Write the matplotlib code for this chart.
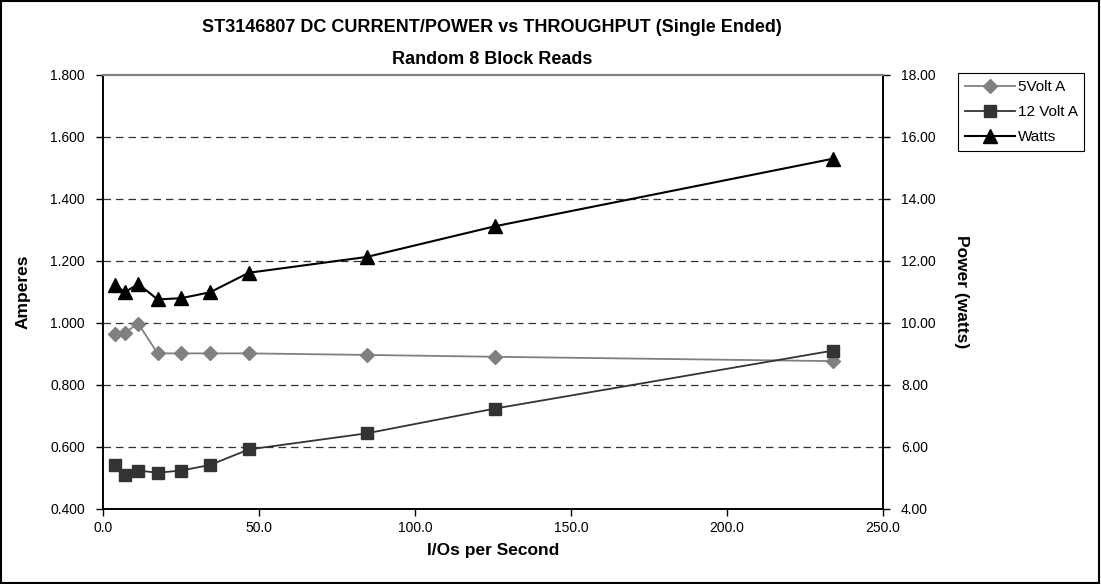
import matplotlib.pyplot as plt
from matplotlib.patches import Rectangle
from matplotlib.ticker import FormatStrFormatter, MultipleLocator

plt.rcParams['font.family'] = ['Liberation Sans', 'DejaVu Sans']

# I/Os per second
iops = [3.8, 7.0, 11.3, 17.5, 25.0, 34.3, 46.7, 84.5, 125.6, 234.0]
# currents (amperes)
volt5_a = [0.965, 0.969, 0.998, 0.902, 0.902, 0.902, 0.902, 0.897, 0.891, 0.877]
volt12_a = [0.542, 0.510, 0.524, 0.517, 0.524, 0.542, 0.592, 0.644, 0.724, 0.911]
# power (watts)
watts = [11.24, 10.99, 11.26, 10.76, 10.80, 10.99, 11.62, 12.13, 13.12, 15.30]

fig = plt.figure(figsize=(11.01, 5.84), dpi=100)
ax = fig.add_axes([103 / 1101, 1 - 509 / 584, 780 / 1101, 434 / 584])
ax2 = ax.twinx()

l1, = ax.plot(iops, volt5_a, color='#808080', marker='D', markersize=7,
              linewidth=1.3, label='5Volt A', zorder=3)
l2, = ax.plot(iops, volt12_a, color='#333333', marker='s', markersize=9,
              linewidth=1.3, label='12 Volt A', zorder=3)
l3, = ax2.plot(iops, watts, color='black', marker='^', markersize=10,
               linewidth=1.5, label='Watts', zorder=3)

ax.set_xlim(0, 250)
ax.set_ylim(0.4, 1.8)
ax2.set_ylim(4, 18)
ax.xaxis.set_major_locator(MultipleLocator(50))
ax.yaxis.set_major_locator(MultipleLocator(0.2))
ax2.yaxis.set_major_locator(MultipleLocator(2))
ax.xaxis.set_major_formatter(FormatStrFormatter('%.1f'))
ax.yaxis.set_major_formatter(FormatStrFormatter('%.3f'))
ax2.yaxis.set_major_formatter(FormatStrFormatter('%.2f'))

# dashed grid
for v in [0.6, 0.8, 1.0, 1.2, 1.4, 1.6]:
    ax.axhline(v, color='#333333', linestyle=(0, (6, 4)), linewidth=0.9, zorder=1)

for a in (ax, ax2):
    a.tick_params(axis='both', direction='out', length=5, width=1,
                  labelsize=10, color='black')
    a.spines['top'].set_color('#808080')
    a.spines['top'].set_linewidth(1.5)
    for s in ('left', 'right', 'bottom'):
        a.spines[s].set_linewidth(1.2)
ax.tick_params(axis='y', pad=8)
ax2.tick_params(axis='y', pad=8)

ax.set_xlabel('I/Os per Second', fontsize=12.5, fontweight='bold', labelpad=6)
ax.set_ylabel('Amperes', fontsize=12.5, fontweight='bold', labelpad=14)
ax2.set_ylabel('Power (watts)', fontsize=12.5, fontweight='bold',
               rotation=270, labelpad=24)

fig.text(492 / 1101, 1 - 28 / 584, 'ST3146807 DC CURRENT/POWER vs THROUGHPUT (Single Ended)',
         ha='center', va='center', fontsize=13, fontweight='bold')
fig.text(492 / 1101, 1 - 59 / 584, 'Random 8 Block Reads',
         ha='center', va='center', fontsize=13, fontweight='bold')

leg = fig.legend([l1, l2, l3], ['5Volt A', '12 Volt A', 'Watts'],
                 loc='upper left', bbox_to_anchor=(958 / 1101, 1 - 73 / 584),
                 fontsize=11, frameon=True, fancybox=False, framealpha=1,
                 edgecolor='black', borderpad=0.45, labelspacing=0.72,
                 handlelength=3.3, handletextpad=0.15, borderaxespad=0)
leg.get_frame().set_linewidth(0.8)

fig.patches.append(Rectangle((0.001, 0.002), 0.997, 0.996, transform=fig.transFigure,
                             fill=False, edgecolor='black', linewidth=1.5))

fig.savefig('out.png', dpi=100)
